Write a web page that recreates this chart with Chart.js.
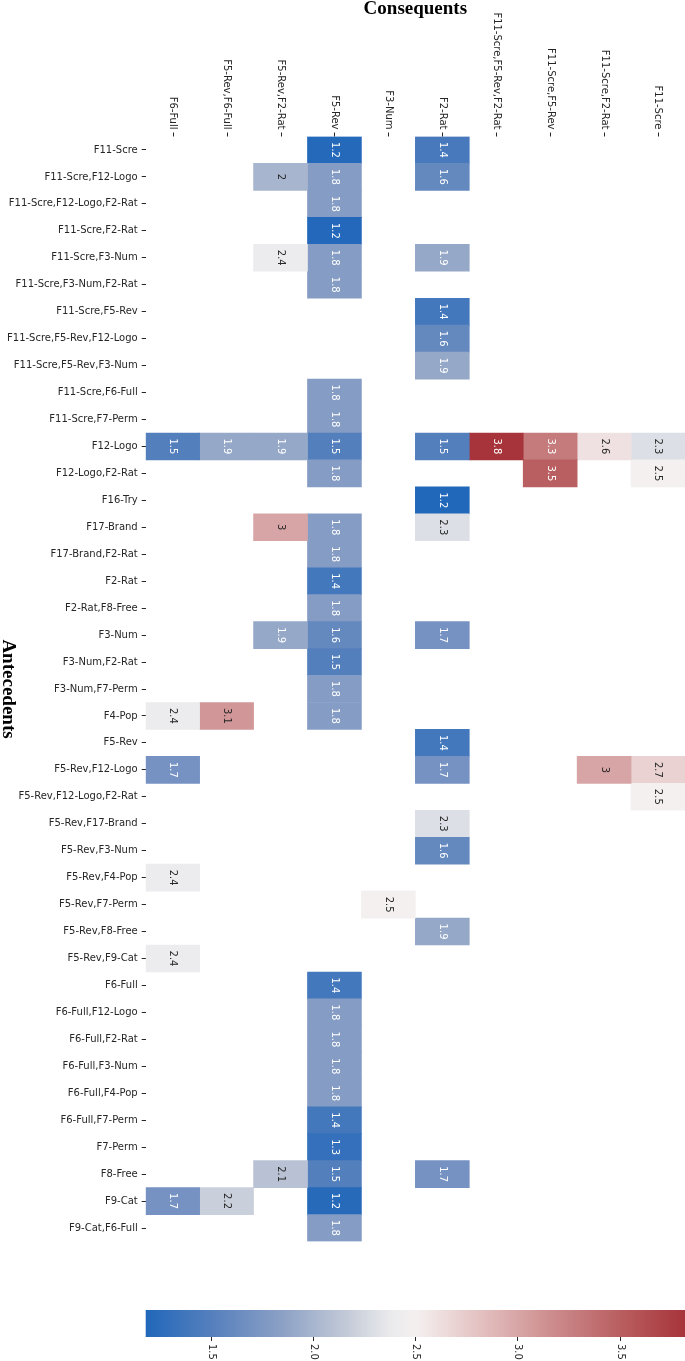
<!DOCTYPE html>
<html>
<head>
<meta charset="utf-8">
<script src="https://cdn.jsdelivr.net/npm/chart.js@4.4.1/dist/chart.umd.min.js"></script>
<style>
html,body{margin:0;padding:0;background:#ffffff;}
#wrap{position:relative;width:685px;height:1361px;}
</style>
</head>
<body>
<div id="wrap"><canvas id="c" width="685" height="1361"></canvas></div>
<script>
// ---------------- DATA ----------------
const antecedents = [
  'F11-Scre','F11-Scre,F12-Logo','F11-Scre,F12-Logo,F2-Rat','F11-Scre,F2-Rat','F11-Scre,F3-Num',
  'F11-Scre,F3-Num,F2-Rat','F11-Scre,F5-Rev','F11-Scre,F5-Rev,F12-Logo','F11-Scre,F5-Rev,F3-Num',
  'F11-Scre,F6-Full','F11-Scre,F7-Perm','F12-Logo','F12-Logo,F2-Rat','F16-Try','F17-Brand',
  'F17-Brand,F2-Rat','F2-Rat','F2-Rat,F8-Free','F3-Num','F3-Num,F2-Rat','F3-Num,F7-Perm','F4-Pop',
  'F5-Rev','F5-Rev,F12-Logo','F5-Rev,F12-Logo,F2-Rat','F5-Rev,F17-Brand','F5-Rev,F3-Num',
  'F5-Rev,F4-Pop','F5-Rev,F7-Perm','F5-Rev,F8-Free','F5-Rev,F9-Cat','F6-Full','F6-Full,F12-Logo',
  'F6-Full,F2-Rat','F6-Full,F3-Num','F6-Full,F4-Pop','F6-Full,F7-Perm','F7-Perm','F8-Free',
  'F9-Cat','F9-Cat,F6-Full'
];
const consequents = [
  'F6-Full','F5-Rev,F6-Full','F5-Rev,F2-Rat','F5-Rev','F3-Num','F2-Rat',
  'F11-Scre,F5-Rev,F2-Rat','F11-Scre,F5-Rev','F11-Scre,F2-Rat','F11-Scre'
];
// each cell: antecedent index, consequent index, lift
const cellRow = [0,0, 1,1,1, 2, 3, 4,4,4, 5, 6, 7, 8, 9, 10,
  11,11,11,11,11,11,11,11,11, 12,12,12, 13, 14,14,14, 15, 16, 17, 18,18,18, 19, 20, 21,21,21,
  22, 23,23,23,23, 24, 25, 26, 27, 28, 29, 30, 31, 32, 33, 34, 35, 36, 37, 38,38,38, 39,39,39, 40];
const cellCol = [3,5, 2,3,5, 3, 3, 2,3,5, 3, 5, 5, 5, 3, 3,
  0,1,2,3,5,6,7,8,9, 3,7,9, 5, 2,3,5, 3, 3, 3, 2,3,5, 3, 3, 0,1,3,
  5, 0,5,8,9, 9, 5, 5, 0, 4, 5, 0, 3, 3, 3, 3, 3, 3, 3, 2,3,5, 0,1,3, 3];
const cellLift = [1.2,1.42, 2.0,1.8,1.6, 1.8, 1.19, 2.4,1.8,1.9, 1.8, 1.4, 1.6, 1.9, 1.8, 1.8,
  1.5,1.9,1.9,1.5,1.5,3.82,3.3,2.6,2.3, 1.8,3.5,2.5, 1.18, 3.0,1.8,2.3, 1.8, 1.4, 1.8, 1.9,1.6,1.7, 1.5, 1.8, 2.4,3.1,1.8,
  1.4, 1.7,1.7,3.0,2.7, 2.5, 2.3, 1.6, 2.4, 2.5, 1.9, 2.4, 1.4, 1.8, 1.8, 1.8, 1.8, 1.4, 1.3, 2.1,1.5,1.7, 1.7,2.2,1.22, 1.8];
const colorbarTicks = [1.5, 2.0, 2.5, 3.0, 3.5];
const colorbarTickLabels = ['1.5', '2.0', '2.5', '3.0', '3.5'];
const colorMin = 1.18;
const colorMax = 3.82;

// ---------------- STYLE ----------------
const vlagStops = [
  [0.000, [33, 103, 186]],
  [0.125, [86, 128, 189]],
  [0.250, [139, 160, 197]],
  [0.375, [196, 203, 216]],
  [0.450, [233, 233, 236]],
  [0.500, [244, 240, 240]],
  [0.625, [227, 191, 191]],
  [0.750, [205, 141, 142]],
  [0.875, [186, 96, 98]],
  [1.000, [166, 52, 58]]
];
function cmap(t) {
  t = Math.max(0, Math.min(1, t));
  for (let i = 1; i < vlagStops.length; i++) {
    const [t1, c1] = vlagStops[i];
    const [t0, c0] = vlagStops[i - 1];
    if (t <= t1) {
      const f = (t - t0) / (t1 - t0);
      const c = c0.map((v, k) => Math.round(v + (c1[k] - v) * f));
      return 'rgb(' + c.join(',') + ')';
    }
  }
  return 'rgb(' + vlagStops[vlagStops.length - 1][1].join(',') + ')';
}
function colorFor(v) { return cmap((v - colorMin) / (colorMax - colorMin)); }
function fmtLift(v) { return String(Number(v.toPrecision(2))); }
function textColorFor(v) { return (v >= 1.95 && v <= 3.15) ? '#262626' : '#ffffff'; }

const TICK_FONT = '10px "DejaVu Sans"';
const TITLE_FONT = 'bold 19px "Liberation Serif", "Times New Roman", serif';
const TEXT_DARK = '#262626';

const datasets = consequents.map((name, c) => {
  const data = antecedents.map(() => null);
  const bg = antecedents.map(() => 'rgba(0,0,0,0)');
  cellRow.forEach((r, i) => {
    if (cellCol[i] === c) {
      data[r] = [c, c + 1];
      bg[r] = colorFor(cellLift[i]);
    }
  });
  return {
    label: name, data, backgroundColor: bg, borderWidth: 0,
    grouped: false, categoryPercentage: 1, barPercentage: 1,
    xAxisID: 'x', yAxisID: 'y'
  };
});

const overlay = {
  id: 'overlay',
  afterDatasetsDraw(chart) {
    const ctx = chart.ctx;
    const xs = chart.scales.x, ys = chart.scales.y, cb = chart.scales.cb;
    const area = chart.chartArea;
    ctx.save();
    // cell annotations
    ctx.font = TICK_FONT;
    ctx.textAlign = 'center';
    ctx.textBaseline = 'middle';
    cellRow.forEach((r, i) => {
      const x = xs.getPixelForValue(cellCol[i] + 0.5);
      const y = ys.getPixelForValue(r);
      ctx.save();
      ctx.translate(x, y);
      ctx.rotate(Math.PI / 2);
      ctx.fillStyle = textColorFor(cellLift[i]);
      ctx.fillText(fmtLift(cellLift[i]), 0, 0);
      ctx.restore();
    });
    // column labels (top), rotated clockwise, with tick marks
    consequents.forEach((name, c) => {
      const x = xs.getPixelForValue(c + 0.5);
      ctx.strokeStyle = TEXT_DARK;
      ctx.lineWidth = 1;
      ctx.beginPath();
      ctx.moveTo(Math.round(x) + 0.5, area.top - 4);
      ctx.lineTo(Math.round(x) + 0.5, area.top);
      ctx.stroke();
      ctx.save();
      ctx.translate(x, area.top - 7);
      ctx.rotate(Math.PI / 2);
      ctx.font = TICK_FONT;
      ctx.fillStyle = TEXT_DARK;
      ctx.textAlign = 'right';
      ctx.textBaseline = 'middle';
      ctx.fillText(name, 0, 0);
      ctx.restore();
    });
    // titles
    ctx.font = TITLE_FONT;
    ctx.fillStyle = '#000000';
    ctx.textAlign = 'center';
    ctx.textBaseline = 'middle';
    ctx.fillText('Consequents', (area.left + area.right) / 2, 9);
    ctx.save();
    ctx.translate(8, (area.top + area.bottom) / 2);
    ctx.rotate(Math.PI / 2);
    ctx.fillText('Antecedents', 0, 0);
    ctx.restore();
    // colorbar
    const cbTop = 1310, cbBottom = 1337;
    const x0 = cb.getPixelForValue(colorMin), x1 = cb.getPixelForValue(colorMax);
    const grad = ctx.createLinearGradient(x0, 0, x1, 0);
    for (let i = 0; i <= 64; i++) grad.addColorStop(i / 64, cmap(i / 64));
    ctx.fillStyle = grad;
    ctx.fillRect(x0, cbTop, x1 - x0, cbBottom - cbTop);
    colorbarTicks.forEach((v, i) => {
      const x = Math.round(cb.getPixelForValue(v)) + 0.5;
      ctx.strokeStyle = TEXT_DARK;
      ctx.beginPath();
      ctx.moveTo(x, cbBottom);
      ctx.lineTo(x, cbBottom + 4);
      ctx.stroke();
      ctx.save();
      ctx.translate(x, cbBottom + 7);
      ctx.rotate(Math.PI / 2);
      ctx.font = TICK_FONT;
      ctx.fillStyle = TEXT_DARK;
      ctx.textAlign = 'left';
      ctx.textBaseline = 'middle';
      ctx.fillText(colorbarTickLabels[i], 0, 0);
      ctx.restore();
    });
    ctx.restore();
  }
};

new Chart(document.getElementById('c'), {
  type: 'bar',
  data: { labels: antecedents, datasets },
  options: {
    indexAxis: 'y',
    responsive: false,
    animation: false,
    devicePixelRatio: 1,
    layout: { padding: { top: 136.5, bottom: 119.5, left: 0, right: 0 } },
    plugins: { legend: { display: false }, tooltip: { enabled: false }, title: { display: false } },
    scales: {
      x: { type: 'linear', min: 0, max: 10, display: false },
      cb: { type: 'linear', axis: 'x', position: 'bottom', min: colorMin, max: colorMax, display: false },
      y: {
        type: 'category', position: 'left', offset: true,
        grid: { display: true, drawOnChartArea: false, drawTicks: true, tickLength: 4, color: TEXT_DARK, offset: false },
        border: { display: false },
        ticks: { font: { family: 'DejaVu Sans', size: 10 }, color: TEXT_DARK, padding: 4, autoSkip: false },
        afterFit(scale) { scale.width = 145.7; }
      }
    }
  },
  plugins: [overlay]
});
</script>
</body>
</html>
